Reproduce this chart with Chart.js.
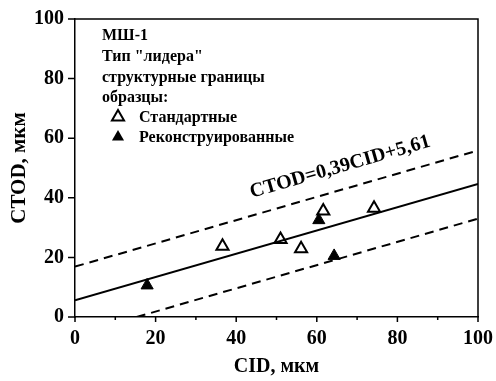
<!DOCTYPE html>
<html>
<head>
<meta charset="utf-8">
<script src="https://cdn.jsdelivr.net/npm/chart.js@4"></script>
<style>
  body { margin: 0; background: #fff; }
  canvas { display: block; }
</style>
</head>
<body>
<canvas id="chart" width="496" height="381"></canvas>
<script>
// CID vs CTOD, sample МШ-1
const FONT = '"Liberation Serif", "Times New Roman", serif';

const xTickValues = [0, 20, 40, 60, 80, 100];
const xMinorValues = [10, 30, 50, 70, 90];
const yTickValues = [0, 20, 40, 60, 80, 100];

const stdX = [36.6, 51.0, 56.1, 61.6, 74.2];
const stdY = [23.7, 26.0, 22.9, 35.6, 36.5];
const recX = [17.9, 60.5, 64.3];
const recY = [10.6, 32.5, 20.5];

const fitX = [0, 100];
const fitY = [5.61, 44.61];
const upperX = [0, 100];
const upperY = [16.9, 55.9];
const lowerX = [15.3, 100];
const lowerY = [0, 33];

const legendLines = ['МШ-1', 'Тип "лидера"', 'структурные границы', 'образцы:'];
const seriesNames = ['Стандартные', 'Реконструированные'];
const equation = 'CTOD=0,39CID+5,61';
const eqPos = [65.8, 50.3];

const pts = (xs, ys) => xs.map((x, i) => ({ x, y: ys[i] }));

const lineSet = (xs, ys, dash) => ({
  data: pts(xs, ys),
  showLine: true,
  borderColor: '#000',
  borderWidth: 2,
  borderDash: dash,
  pointRadius: 0,
  fill: false
});

const triPath = (ctx, x, y, r) => {
  ctx.beginPath();
  for (let k = 0; k < 3; k++) {
    const a = k * 2 * Math.PI / 3;
    const px = x + Math.sin(a) * r, py = y - Math.cos(a) * r;
    k ? ctx.lineTo(px, py) : ctx.moveTo(px, py);
  }
  ctx.closePath();
};

const decor = {
  id: 'decor',
  afterDraw(chart) {
    const { ctx, chartArea: { left, right, top, bottom } } = chart;
    const xs = chart.scales.x, ys = chart.scales.y;
    ctx.save();
    ctx.strokeStyle = '#000';
    ctx.lineWidth = 1.5;
    // frame top / right
    ctx.beginPath();
    ctx.moveTo(left, top); ctx.lineTo(right, top); ctx.lineTo(right, bottom);
    ctx.stroke();
    // tick marks
    ctx.beginPath();
    xTickValues.forEach(v => { const p = xs.getPixelForValue(v); ctx.moveTo(p, bottom); ctx.lineTo(p, bottom + 5); });
    xMinorValues.forEach(v => { const p = xs.getPixelForValue(v); ctx.moveTo(p, bottom); ctx.lineTo(p, bottom + 3); });
    yTickValues.forEach(v => { const p = ys.getPixelForValue(v); ctx.moveTo(left, p); ctx.lineTo(left - 7, p); });
    ctx.stroke();

    // legend block
    ctx.fillStyle = '#000';
    ctx.font = 'bold 16px ' + FONT;
    ctx.textBaseline = 'alphabetic';
    const base = [40, 61, 82, 102];
    legendLines.forEach((t, i) => ctx.fillText(t, 102, base[i]));
    const sBase = [122, 142];
    seriesNames.forEach((t, i) => {
      ctx.fillText(t, 139, sBase[i]);
      triPath(ctx, 118, sBase[i] - 5, 7);
      if (i === 0) { ctx.lineWidth = 2; ctx.fillStyle = '#fff'; ctx.fill(); ctx.stroke(); ctx.fillStyle = '#000'; }
      else ctx.fill();
    });

    // regression equation
    const ex = xs.getPixelForValue(eqPos[0]), ey = ys.getPixelForValue(eqPos[1]);
    ctx.translate(ex, ey);
    ctx.rotate(-16 * Math.PI / 180);
    ctx.font = 'bold 20px ' + FONT;
    ctx.textAlign = 'center';
    ctx.textBaseline = 'middle';
    ctx.fillText(equation, 0, 0);
    ctx.restore();
  }
};

new Chart(document.getElementById('chart'), {
  type: 'scatter',
  data: {
    datasets: [
      lineSet(upperX, upperY, [9, 6]),
      lineSet(lowerX, lowerY, [9, 6]),
      lineSet(fitX, fitY, []),
      {
        data: pts(recX, recY),
        pointStyle: 'triangle',
        pointRadius: 7,
        backgroundColor: '#000',
        borderColor: '#000',
        borderWidth: 1
      },
      {
        data: pts(stdX, stdY),
        pointStyle: 'triangle',
        pointRadius: 7,
        backgroundColor: '#fff',
        borderColor: '#000',
        borderWidth: 2
      }
    ]
  },
  options: {
    responsive: false,
    animation: false,
    layout: { padding: { top: 19, right: 18, left: 0, bottom: 0 } },
    plugins: { legend: { display: false }, tooltip: { enabled: false } },
    scales: {
      x: {
        type: 'linear', min: 0, max: 100,
        afterBuildTicks: s => { s.ticks = xTickValues.map(v => ({ value: v })); },
        afterFit: s => { s.height = 64; s.paddingLeft = 0; s.paddingRight = 0; },
        grid: { display: false, drawTicks: false },
        border: { display: true, color: '#000', width: 1.5 },
        ticks: { color: '#000', padding: 10, font: { family: FONT, size: 20, weight: 'bold' }, maxRotation: 0 },
        title: { display: true, text: 'CID, мкм', color: '#000', padding: { bottom: 2, top: 0 }, font: { family: FONT, size: 20, weight: 'bold' } }
      },
      y: {
        type: 'linear', min: 0, max: 100,
        afterBuildTicks: s => { s.ticks = yTickValues.map(v => ({ value: v })); },
        afterFit: s => { s.width = 75; s.paddingTop = 0; s.paddingBottom = 0; },
        grid: { display: false, drawTicks: false },
        border: { display: true, color: '#000', width: 1.5 },
        ticks: { color: '#000', padding: 11, font: { family: FONT, size: 20, weight: 'bold' } },
        title: { display: true, text: 'CTOD, мкм', color: '#000', padding: { top: 7, bottom: 0 }, font: { family: FONT, size: 21, weight: 'bold' } }
      }
    }
  },
  plugins: [decor]
});
</script>
</body>
</html>
